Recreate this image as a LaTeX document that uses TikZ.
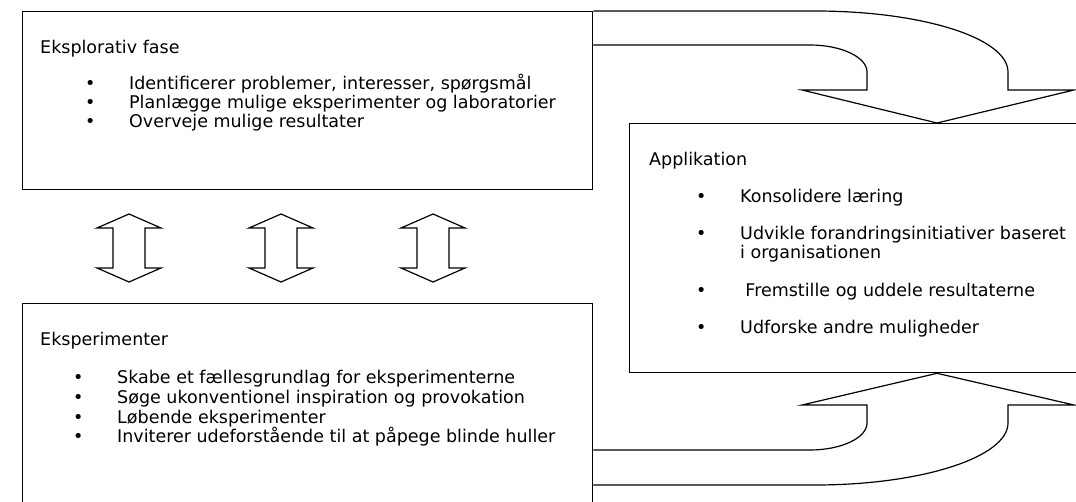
\documentclass[tikz,border=0pt]{standalone}
\usepackage{fontspec}
\setmainfont{DejaVu Sans}
\usetikzlibrary{positioning, calc}

\newcommand{\itm}[1]{\makebox[44pt][l]{\textbullet}#1}

\begin{document}
\begin{tikzpicture}[x=1pt, y=-1pt,
  box/.style={draw, line width=1.3pt, anchor=north west, inner sep=0pt},
  head/.style={anchor=base west, inner sep=0pt, font=\fontsize{17.5}{20}\selectfont},
  item/.style={anchor=base west, inner sep=0pt, font=\fontsize{17.5}{20}\selectfont},
  bigarrow/.style={draw, line width=1.2pt, line join=miter},
  dblarrow/.style={draw, line width=1.2pt}]

  \clip (0,0) rectangle (1076,502);

  \node[box, minimum width=570pt, minimum height=178pt] (explor) at (22,11) {};
  \node[box, minimum width=570pt, minimum height=260pt] (exper)  at (22,303) {};
  \node[box, minimum width=500pt, minimum height=249pt] (appl)   at (629,123) {};

  \node[head] (explor-title) at (40,54) {Eksplorativ fase};
  \foreach \t [count=\i] in {{Identificerer problemer, interesser, spørgsmål},
                             {Planlægge mulige eksperimenter og laboratorier},
                             {Overveje mulige resultater}}
    \node[item] (explor-\i) at ($(explor.north west)+(63,60+19*\i)$) {\itm{\t}};

  \node[head] (exper-title) at (40,346) {Eksperimenter};
  \foreach \t [count=\i] in {{Skabe et fællesgrundlag for eksperimenterne},
                             {Søge ukonventionel inspiration og provokation},
                             {Løbende eksperimenter},
                             {Inviterer udeforstående til at påpege blinde huller}}
    \node[item] (exper-\i) at ($(exper.north west)+(51,61.5+19.5*\i)$) {\itm{\t}};

  \node[head] (appl-title) at (649,166) {Applikation};
  \foreach \y/\t [count=\i] in {203/{\itm{Konsolidere læring}},
                                240/{\itm{Udvikle forandringsinitiativer baseret}},
                                259/{\hspace*{44pt}i organisationen},
                                297/{\itm{\hspace{0.3em}Fremstille og uddele resultaterne}},
                                334/{\itm{Udforske andre muligheder}}}
    \node[item] (appl-\i) at (696,\y) {\t};

  % curved block arrows into the application box
  \draw[bigarrow] (explor.north east) -- (815,11)
    .. controls (922,11) and (1008,38) .. (1008,72) -- (1008,90) -- (1074,90)
    -- (appl.north -| 937,0) -- (802,90) -- (867,90) -- (867,72)
    .. controls (867,57) and (841,45) .. (810,45) -- (explor.east |- 0,45);
  \draw[bigarrow] (exper.east |- 0,485) -- (815,485)
    .. controls (922,485) and (1008,457) .. (1008,423) -- (1008,405) -- (1074,405)
    -- (appl.south -| 937,0) -- (802,405) -- (867,405) -- (867,423)
    .. controls (867,438) and (841,450) .. (810,450) -- (exper.east |- 0,450);

  % up-down arrows between the two phases
  \foreach \x in {129,281,433}
    \draw[dblarrow] (\x,214) -- (\x+32,228) -- (\x+16,228) -- (\x+16,268)
      -- (\x+32,268) -- (\x,282) -- (\x-32,268) -- (\x-16,268)
      -- (\x-16,228) -- (\x-32,228) -- cycle;
\end{tikzpicture}
\end{document}
